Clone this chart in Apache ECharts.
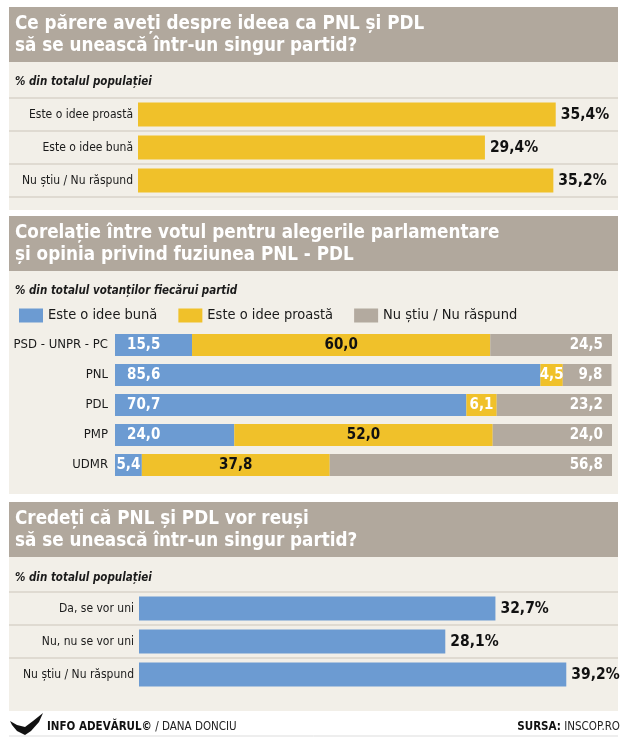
<!DOCTYPE html>
<html>
<head>
<meta charset="utf-8">
<script src="https://cdn.jsdelivr.net/npm/echarts@6/dist/echarts.min.js"></script>
<style>
html,body{margin:0;padding:0;background:#ffffff;}
#chart{width:627px;height:750px;}
</style>
</head>
<body>
<div id="chart"></div>
<script>
// ---- data ----
const q1Title = ['Ce părere aveți despre ideea ca PNL și PDL', 'să se unească într-un singur partid?'];
const q1Subtitle = '% din totalul populației';
const q1Categories = ['Este o idee proastă', 'Este o idee bună', 'Nu știu / Nu răspund'];
const q1Values = [35.4, 29.4, 35.2];

const q2Title = ['Corelație între votul pentru alegerile parlamentare', 'și opinia privind fuziunea PNL - PDL'];
const q2Subtitle = '% din totalul votanților fiecărui partid';
const partyCategories = ['PSD - UNPR - PC', 'PNL', 'PDL', 'PMP', 'UDMR'];
const seriesNames = ['Este o idee bună', 'Este o idee proastă', 'Nu știu / Nu răspund'];
const goodIdea = [15.5, 85.6, 70.7, 24.0, 5.4];
const badIdea = [60.0, 4.5, 6.1, 52.0, 37.8];
const dontKnow = [24.5, 9.8, 23.2, 24.0, 56.8];

const q3Title = ['Credeți că PNL și PDL vor reuși', 'să se unească într-un singur partid?'];
const q3Subtitle = '% din totalul populației';
const q3Categories = ['Da, se vor uni', 'Nu, nu se vor uni', 'Nu știu / Nu răspund'];
const q3Values = [32.7, 28.1, 39.2];

const footerLeftBold = 'INFO ADEVĂRUL©';
const footerLeftRest = ' / DANA DONCIU';
const footerRightBold = 'SURSA:';
const footerRightRest = ' INSCOP.RO';

// ---- styles ----
const FONT = "'Liberation Sans Narrow', 'DejaVu Sans Condensed', 'Roboto Condensed', Roboto, sans-serif";
const C_HEADER = '#b1a89d';
const C_PANEL = '#f2efe8';
const C_SEP = '#d9d3ca';
const C_YELLOW = '#f0c12a';
const C_BLUE = '#6c9bd2';
const C_GRAY = '#b3aa9f';
const C_TEXT = '#1a1a1a';

const fmt = v => v.toFixed(1).replace('.', ',');

const chart = echarts.init(document.getElementById('chart'), null, {renderer: 'canvas'});

const PX = 9, PW = 609;
function panel(top, bottom, headerBottom, titleLines, subtitle, subY) {
  const g = [];
  g.push({type: 'rect', shape: {x: PX, y: top, width: PW, height: bottom - top}, style: {fill: C_PANEL}, z: -10});
  g.push({type: 'rect', shape: {x: PX, y: top, width: PW, height: headerBottom - top}, style: {fill: C_HEADER}, z: -9});
  titleLines.forEach((t, i) => {
    g.push({type: 'text', x: 15, y: top + 17 + i * 22.5, style: {text: t, fill: '#ffffff', fontFamily: FONT, fontWeight: 'bold', fontSize: 18.7, verticalAlign: 'middle'}});
  });
  g.push({type: 'text', x: 15, y: subY, style: {text: subtitle, fill: C_TEXT, fontFamily: FONT, fontStyle: 'italic', fontWeight: 'bold', fontSize: 11.5, verticalAlign: 'middle'}});
  return g;
}
function separators(top, rowH, n) {
  const g = [];
  for (let i = 0; i < n; i++) {
    const y = top + i * rowH;
    g.push({type: 'line', shape: {x1: PX, y1: y, x2: PX + PW, y2: y}, style: {stroke: C_SEP, lineWidth: 1.5}, z: -5});
  }
  return g;
}

const G1 = {left: 138, top: 98, width: 472, height: 99};
const G2 = {left: 115, top: 330, width: 497, height: 150};
const G3 = {left: 139, top: 592, width: 436, height: 99};

let graphics = [];
graphics = graphics.concat(panel(7, 210, 62, q1Title, q1Subtitle, 82));
graphics = graphics.concat(separators(G1.top, G1.height / q1Categories.length, q1Categories.length + 1));
graphics = graphics.concat(panel(216, 494, 271, q2Title, q2Subtitle, 291));
graphics = graphics.concat(panel(502, 711, 557, q3Title, q3Subtitle, 578));
graphics = graphics.concat(separators(G3.top, G3.height / q3Categories.length, q3Categories.length));
// footer
graphics.push({type: 'polygon', shape: {points: [[10,721],[17,725],[25,727],[33,721],[43,713],[39,722],[31,731],[25,735],[17,731],[12,725]]}, style: {fill: '#111'}});
const footRich = {b: {fontFamily: FONT, fontWeight: 'bold', fontSize: 11.5, fill: '#111'}, r: {fontFamily: FONT, fontSize: 11.5, fill: '#222'}};
graphics.push({type: 'text', x: 47, y: 727, style: {
  text: '{b|' + footerLeftBold + '}{r|' + footerLeftRest + '}',
  verticalAlign: 'middle', rich: footRich
}});
graphics.push({type: 'text', x: 620, y: 727, style: {
  text: '{b|' + footerRightBold + '}{r|' + footerRightRest + '}',
  align: 'right', verticalAlign: 'middle', rich: footRich
}});
graphics.push({type: 'line', shape: {x1: PX, y1: 736, x2: PX + PW, y2: 736}, style: {stroke: '#dddddd', lineWidth: 1}});

const catAxisBase = {
  type: 'category', inverse: true,
  axisLine: {show: false}, axisTick: {show: false}, splitLine: {show: false}
};

const option = {
  backgroundColor: '#ffffff',
  animation: false,
  graphic: graphics,
  legend: {
    data: seriesNames,
    left: 19, top: 308, padding: 0,
    icon: 'rect', itemWidth: 24, itemHeight: 14, itemGap: 21,
    textStyle: {fontFamily: FONT, fontSize: 14.5, color: C_TEXT},
    selectedMode: false
  },
  grid: [
    Object.assign({containLabel: false}, G1),
    Object.assign({containLabel: false}, G2),
    Object.assign({containLabel: false}, G3)
  ],
  xAxis: [
    {type: 'value', gridIndex: 0, min: 0, max: 40, show: false},
    {type: 'value', gridIndex: 1, min: 0, max: 100, show: false},
    {type: 'value', gridIndex: 2, min: 0, max: 40, show: false}
  ],
  yAxis: [
    Object.assign({}, catAxisBase, {gridIndex: 0, data: q1Categories, axisLabel: {margin: 5, fontFamily: FONT, fontSize: 12, color: C_TEXT}}),
    Object.assign({}, catAxisBase, {gridIndex: 1, data: partyCategories, axisLabel: {margin: 7, fontFamily: FONT, fontSize: 13, color: C_TEXT}}),
    Object.assign({}, catAxisBase, {gridIndex: 2, data: q3Categories, axisLabel: {margin: 5, fontFamily: FONT, fontSize: 12, color: C_TEXT}})
  ],
  series: [
    {
      name: 'q1', type: 'bar', xAxisIndex: 0, yAxisIndex: 0, data: q1Values, barWidth: 24,
      itemStyle: {color: C_YELLOW},
      label: {show: true, position: 'right', distance: 5, formatter: p => fmt(p.value) + '%', fontFamily: FONT, fontWeight: 'bold', fontSize: 15.5, color: '#111'}
    },
    {
      name: seriesNames[0], type: 'bar', stack: 'p', xAxisIndex: 1, yAxisIndex: 1, barWidth: 22,
      itemStyle: {color: C_BLUE},
      data: goodIdea.map(v => ({value: v, label: {position: v < 10 ? 'inside' : 'insideLeft'}})),
      label: {show: true, position: 'insideLeft', distance: 12, formatter: p => fmt(p.value), fontFamily: FONT, fontWeight: 'bold', fontSize: 15, color: '#ffffff'}
    },
    {
      name: seriesNames[1], type: 'bar', stack: 'p', xAxisIndex: 1, yAxisIndex: 1, barWidth: 22,
      itemStyle: {color: C_YELLOW},
      data: badIdea.map(v => ({value: v, label: {color: v < 10 ? '#ffffff' : '#111111'}})),
      label: {show: true, position: 'inside', formatter: p => fmt(p.value), fontFamily: FONT, fontWeight: 'bold', fontSize: 15}
    },
    {
      name: seriesNames[2], type: 'bar', stack: 'p', xAxisIndex: 1, yAxisIndex: 1, barWidth: 22,
      itemStyle: {color: C_GRAY},
      data: dontKnow,
      label: {show: true, position: 'insideRight', distance: 9, formatter: p => fmt(p.value), fontFamily: FONT, fontWeight: 'bold', fontSize: 15, color: '#ffffff'}
    },
    {
      name: 'q3', type: 'bar', xAxisIndex: 2, yAxisIndex: 2, data: q3Values, barWidth: 24,
      itemStyle: {color: C_BLUE},
      label: {show: true, position: 'right', distance: 5, formatter: p => fmt(p.value) + '%', fontFamily: FONT, fontWeight: 'bold', fontSize: 15.5, color: '#111'}
    }
  ]
};
chart.setOption(option);
</script>
</body>
</html>
